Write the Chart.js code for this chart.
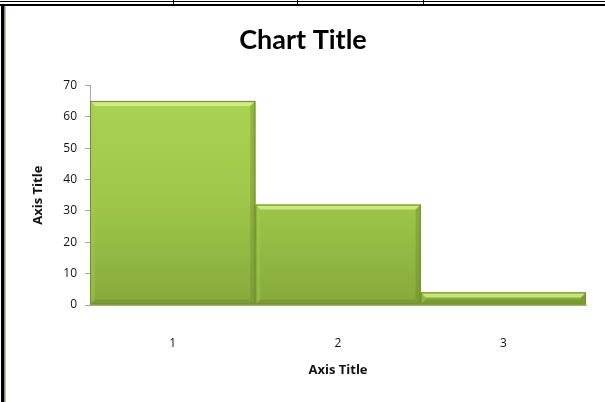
<!DOCTYPE html>
<html>
<head>
<meta charset="utf-8">
<script src="https://cdn.jsdelivr.net/npm/chart.js@4.4.0/dist/chart.umd.min.js"></script>
<style>
    body { margin: 0; background: #fff; }
    #wrap { position: relative; width: 605px; height: 402px; overflow: hidden; }
    #wrap canvas { position: absolute; left: 0; top: 0; }
    .line { position: absolute; background: #000; }
</style>
</head>
<body>
<div id="wrap">
    <canvas id="chart" width="605" height="402"></canvas>
    <!-- sheet frame lines around the chart -->
    <div class="line" style="left:0; top:1px; width:605px; height:1px;"></div>
    <div class="line" style="left:0; top:4px; width:605px; height:2px;"></div>
    <div class="line" style="left:173px; top:0; width:1px; height:4px;"></div>
    <div class="line" style="left:297px; top:0; width:1px; height:4px;"></div>
    <div class="line" style="left:423px; top:0; width:1px; height:4px;"></div>
    <div class="line" style="left:1px; top:4px; width:3px; height:398px;"></div>
    <div class="line" style="left:4px; top:6px; width:1px; height:396px; background:#7d8f52;"></div>
    <div class="line" style="left:5px; top:6px; width:1px; height:396px; background:#bfbfbf;"></div>
</div>
<script>
const categories = ['1', '2', '3'];
const values = [65, 32, 4];
const yTicks = [0, 10, 20, 30, 40, 50, 60, 70];

const chartTitle = 'Chart Title';
const xTitle = 'Axis Title';
const yTitle = 'Axis Title';

// Light top edge and darker side edges, like the office bevel effect
const bevelPlugin = {
    id: 'bevel',
    afterDatasetsDraw(chart) {
        const ctx = chart.ctx;
        chart.getDatasetMeta(0).data.forEach(bar => {
            const left = bar.x - bar.width / 2;
            const right = bar.x + bar.width / 2;
            const top = bar.y;
            const bottom = bar.base;
            const b = Math.min(5, (bottom - top) / 2);
            ctx.save();
            // top highlight
            ctx.fillStyle = 'rgba(215, 242, 140, 0.8)';
            ctx.beginPath();
            ctx.moveTo(left, top);
            ctx.lineTo(right, top);
            ctx.lineTo(right - b, top + b);
            ctx.lineTo(left + b, top + b);
            ctx.closePath();
            ctx.fill();
            // right shade
            ctx.fillStyle = 'rgba(100, 130, 40, 0.35)';
            ctx.beginPath();
            ctx.moveTo(right, top);
            ctx.lineTo(right, bottom);
            ctx.lineTo(right - b, bottom - b);
            ctx.lineTo(right - b, top + b);
            ctx.closePath();
            ctx.fill();
            // bottom shade
            ctx.fillStyle = 'rgba(100, 130, 40, 0.35)';
            ctx.beginPath();
            ctx.moveTo(left, bottom);
            ctx.lineTo(right, bottom);
            ctx.lineTo(right - b, bottom - b);
            ctx.lineTo(left + b, bottom - b);
            ctx.closePath();
            ctx.fill();
            // left edge
            ctx.fillStyle = 'rgba(160, 205, 80, 0.4)';
            ctx.beginPath();
            ctx.moveTo(left, top);
            ctx.lineTo(left + b, top + b);
            ctx.lineTo(left + b, bottom - b);
            ctx.lineTo(left, bottom);
            ctx.closePath();
            ctx.fill();
            ctx.strokeStyle = '#6f8f2c';
            ctx.lineWidth = 1;
            ctx.strokeRect(left + 0.5, top + 0.5, bar.width - 1, bottom - top - 1);
            ctx.restore();
        });
    }
};

function barGradient(context) {
    const area = context.chart.chartArea;
    if (!area) return '#9bc445';
    const g = context.chart.ctx.createLinearGradient(0, area.top, 0, area.bottom);
    g.addColorStop(0, '#acd454');
    g.addColorStop(0.5, '#a0c84a');
    g.addColorStop(1, '#87a93c');
    return g;
}

const ctx = document.getElementById('chart').getContext('2d');
new Chart(ctx, {
    type: 'bar',
    data: {
        labels: categories,
        datasets: [{
            data: values,
            backgroundColor: barGradient,
            borderWidth: 0,
            barPercentage: 1,
            categoryPercentage: 1
        }]
    },
    options: {
        responsive: false,
        animation: false,
        layout: { padding: { left: 20, right: 19, top: 0, bottom: 0 } },
        plugins: {
            legend: { display: false },
            tooltip: { enabled: false },
            title: {
                display: true,
                text: chartTitle,
                color: '#000',
                font: { family: 'Lato', size: 27, weight: 'bold' },
                padding: { top: 24, bottom: 29 }
            }
        },
        scales: {
            x: {
                grid: { display: false },
                border: { display: true, color: '#a6a6a6', width: 1 },
                ticks: {
                    color: '#111',
                    font: { family: 'Open Sans', size: 12 },
                    padding: 23
                },
                title: {
                    display: true,
                    text: xTitle,
                    color: '#111',
                    font: { family: 'Open Sans', size: 13, weight: 'bold' },
                    padding: { top: 0, bottom: 24 }
                },
                afterFit(scale) { scale.height = 97; }
            },
            y: {
                min: 0,
                max: 70,
                afterBuildTicks(scale) {
                    scale.ticks = yTicks.map(v => ({ value: v }));
                },
                grid: {
                    drawOnChartArea: false,
                    drawTicks: true,
                    tickLength: 5,
                    color: '#a6a6a6'
                },
                border: { display: true, color: '#a6a6a6', width: 1 },
                ticks: {
                    color: '#111',
                    font: { family: 'Open Sans', size: 12 },
                    padding: 8
                },
                title: {
                    display: true,
                    text: yTitle,
                    color: '#111',
                    font: { family: 'Open Sans', size: 13, weight: 'bold' },
                    padding: { top: 10, bottom: 0 }
                },
                afterFit(scale) { scale.width = 70; }
            }
        }
    },
    plugins: [bevelPlugin]
});
</script>
</body>
</html>
